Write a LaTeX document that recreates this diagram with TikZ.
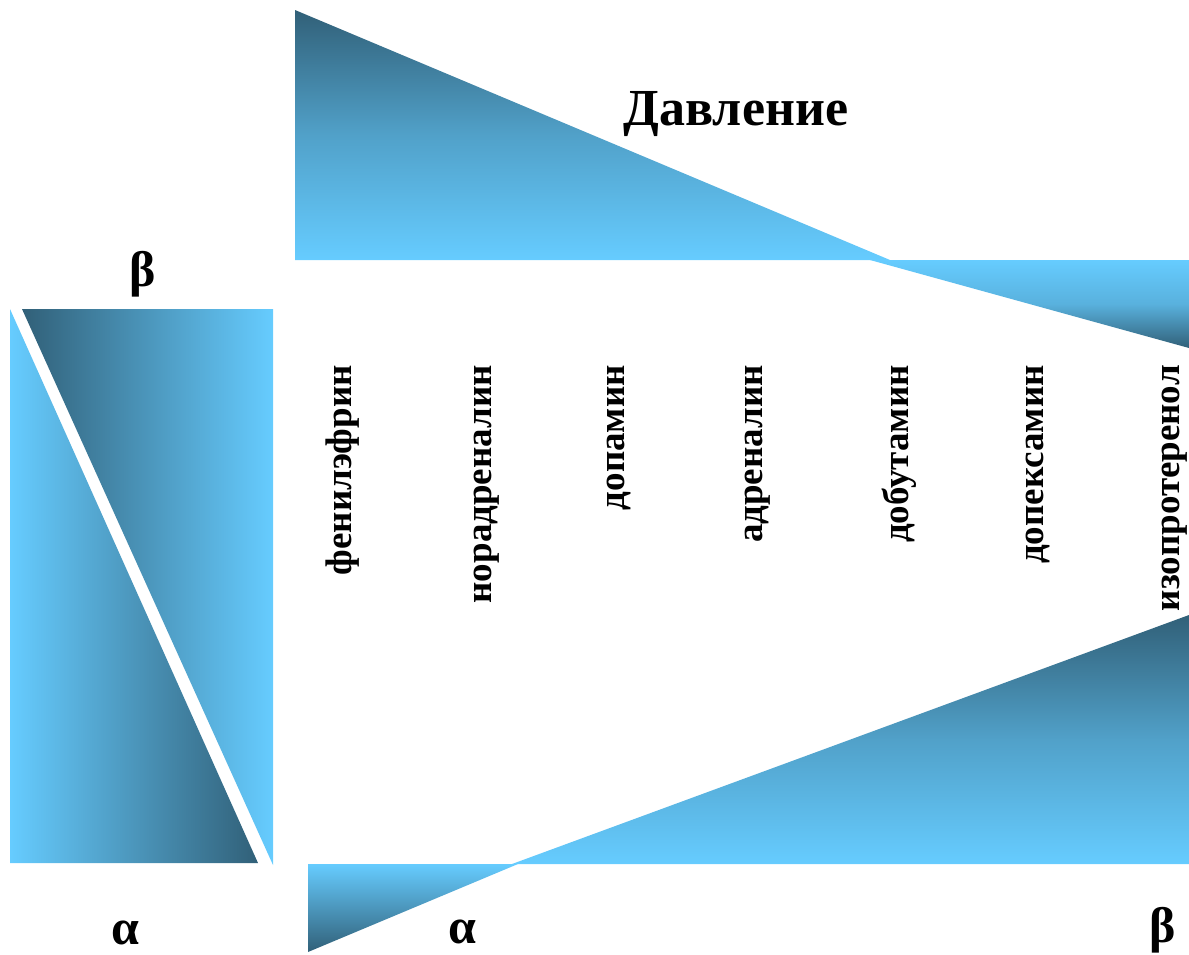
\documentclass[tikz,border=0pt]{standalone}
\usepackage{fontspec}
\setmainfont{Liberation Serif}
\definecolor{darkblue}{RGB}{49,96,120}
\definecolor{lightblue}{RGB}{102,204,255}
\tikzset{
  drug/.style={rotate=90, anchor=base east, inner sep=0pt, font=\fontsize{37}{40}\selectfont\bfseries},
  greek/.style={anchor=base, inner sep=0pt, font=\fontsize{50}{52}\selectfont\bfseries},
}

\begin{document}
\begin{tikzpicture}[x=1pt,y=-1pt]
\useasboundingbox (0,0) rectangle (1189,954);
% pressure wedges
\shade[top color=darkblue, bottom color=lightblue, middle color=lightblue!60!darkblue] (295,10) -- (890,260) -- (295,260) -- cycle;
\shade[top color=lightblue, bottom color=darkblue, middle color=lightblue!75!darkblue] (870,260) -- (1189,260) -- (1189,348) -- cycle;
% receptor wedges
\shade[top color=lightblue, bottom color=darkblue] (308,864) -- (518,864) -- (308,952) -- cycle;
\shade[top color=darkblue, bottom color=lightblue, middle color=lightblue!60!darkblue] (1189,615) -- (1189,864) -- (512,864) -- cycle;
% left block
\shade[left color=lightblue, right color=darkblue] (10,309) -- (258,863) -- (10,863) -- cycle;
\shade[left color=darkblue, right color=lightblue] (22,309) -- (273,309) -- (273,865) -- cycle;

\node[font=\fontsize{52}{54}\selectfont\bfseries, anchor=base, inner sep=0pt] (pressure) at (736,125) {Давление};

\node[greek] (betaL) at (143,286) {β};
\node[greek] (alphaL) at (125,944) {α};
\node[greek] (alphaB) at (462,943) {α};
\node[greek] (betaB) at (1163,942) {β};

\node[drug] (phenyl) at (351,365) {фенилэфрин};
\node[drug] (norad) at (491,365) {норадреналин};
\node[drug] (dopa) at (624,365) {допамин};
\node[drug] (adren) at (762,365) {адреналин};
\node[drug] (dobut) at (908,365) {добутамин};
\node[drug] (dopex) at (1043,365) {допексамин};
\node[drug] (isopro) at (1179,365) {изопротеренол};
\end{tikzpicture}
\end{document}
